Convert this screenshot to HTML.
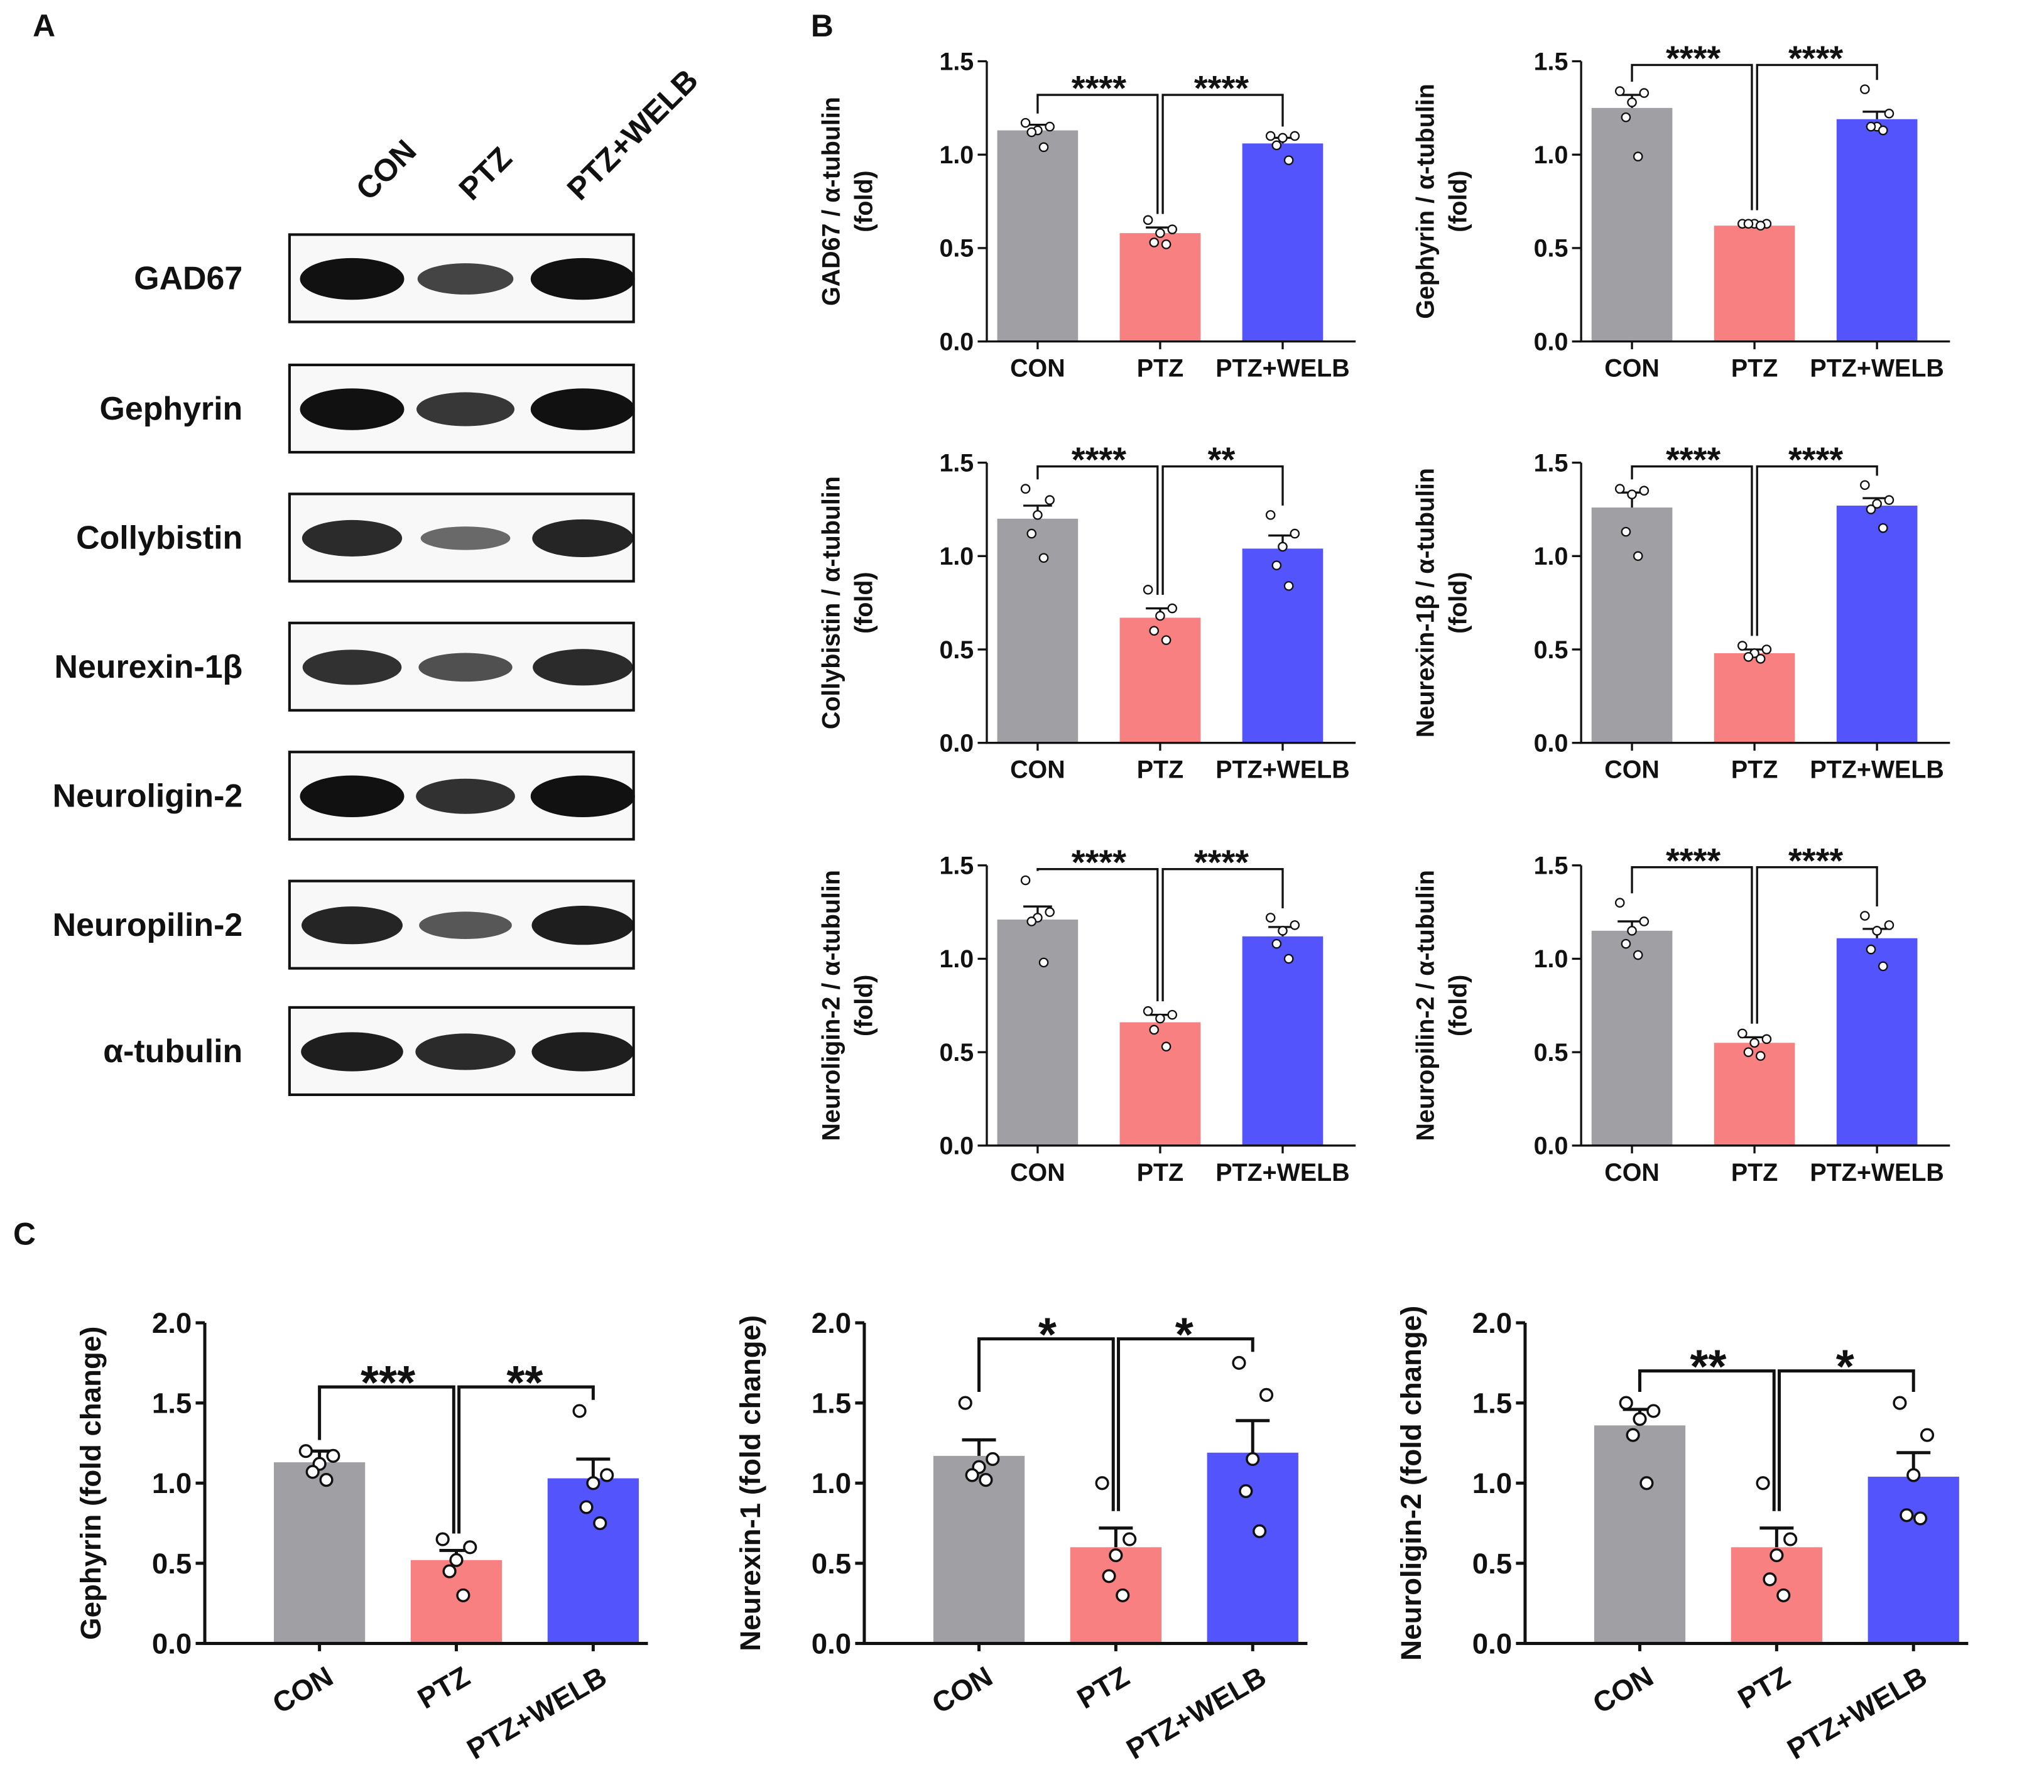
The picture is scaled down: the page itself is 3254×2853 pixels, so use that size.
<!DOCTYPE html>
<html><head><meta charset="utf-8"><style>
html,body{margin:0;padding:0;background:#fff}
svg{display:block}
text{font-family:"Liberation Sans",sans-serif;font-weight:bold;fill:#111}
</style></head><body>
<svg id="fig" width="3254" height="2853" viewBox="0 0 1568 1375" xmlns="http://www.w3.org/2000/svg">
<rect width="1568" height="1375" fill="#fff"/>
<g id="panelA">
<text x="25" y="28" font-size="24">A</text>
<text transform="translate(283,155) rotate(-45)" font-size="24">CON</text>
<text transform="translate(362,155) rotate(-45)" font-size="24">PTZ</text>
<text transform="translate(445,155) rotate(-45)" font-size="24">PTZ+WELB</text>
</g>
<g id="charts"></g>
</svg>
<script>
const blotNames=["GAD67","Gephyrin","Collybistin","Neurexin-1β","Neuroligin-2","Neuropilin-2","α-tubulin"];
const blotIntensity=[[1,0.6,1],[1,0.7,1],[0.8,0.3,0.85],[0.75,0.5,0.8],[1,0.75,1],[0.85,0.45,0.9],[0.9,0.8,0.9]];
const groups=["CON","PTZ","PTZ+WELB"];
const colors=["#a0a0a4","#f98080","#5454fc"];
const bTitles=["GAD67 / α-tubulin","Gephyrin / α-tubulin","Collybistin / α-tubulin","Neurexin-1β / α-tubulin","Neuroligin-2 / α-tubulin","Neuropilin-2 / α-tubulin"];
const bMeans=[[1.13,0.58,1.06],[1.25,0.62,1.19],[1.20,0.67,1.04],[1.26,0.48,1.27],[1.21,0.66,1.12],[1.15,0.55,1.11]];
const bSem=[[0.03,0.03,0.03],[0.07,0.01,0.04],[0.07,0.05,0.07],[0.08,0.02,0.04],[0.07,0.04,0.05],[0.05,0.03,0.05]];
const bPoints=[
[[1.17,1.15,1.13,1.12,1.04],[0.65,0.6,0.58,0.53,0.52],[1.1,1.1,1.09,1.05,0.97]],
[[1.34,1.33,1.28,1.2,0.99],[0.63,0.63,0.63,0.63,0.62],[1.35,1.22,1.15,1.15,1.13]],
[[1.36,1.30,1.22,1.12,0.99],[0.82,0.72,0.68,0.6,0.55],[1.22,1.12,1.05,0.95,0.84]],
[[1.36,1.35,1.33,1.13,1.0],[0.52,0.5,0.48,0.46,0.45],[1.38,1.3,1.28,1.25,1.15]],
[[1.42,1.25,1.22,1.2,0.98],[0.72,0.7,0.68,0.62,0.53],[1.22,1.18,1.15,1.08,1.0]],
[[1.3,1.2,1.15,1.08,1.02],[0.6,0.57,0.55,0.5,0.48],[1.23,1.18,1.15,1.05,0.96]]];
const bStars=[["****","****"],["****","****"],["****","**"],["****","****"],["****","****"],["****","****"]];
const bBracket=[1.32,1.48,1.48,1.48,1.48,1.49];
const bTicks=[0,0.5,1.0,1.5];
const cTitles=["Gephyrin (fold change)","Neurexin-1 (fold change)","Neuroligin-2 (fold change)"];
const cMeans=[[1.13,0.52,1.03],[1.17,0.60,1.19],[1.36,0.60,1.04]];
const cSem=[[0.07,0.06,0.12],[0.10,0.12,0.20],[0.10,0.12,0.15]];
const cPoints=[
[[1.2,1.17,1.12,1.07,1.02],[0.65,0.6,0.52,0.45,0.3],[1.45,1.05,1.0,0.85,0.75]],
[[1.5,1.15,1.1,1.05,1.02],[1.0,0.65,0.55,0.42,0.3],[1.75,1.55,1.15,0.95,0.7]],
[[1.5,1.45,1.4,1.3,1.0],[1.0,0.65,0.55,0.4,0.3],[1.5,1.3,1.05,0.8,0.78]]];
const cStars=[["***","**"],["*","*"],["**","*"]];
const cBracket=[1.6,1.9,1.7];
const cTicks=[0,0.5,1.0,1.5,2.0];

const NS="http://www.w3.org/2000/svg";
const root=document.getElementById("charts");
function mk(tag,attrs,parent,txt){const e=document.createElementNS(NS,tag);for(const k in attrs)e.setAttribute(k,attrs[k]);if(txt!==undefined)e.textContent=txt;(parent||root).appendChild(e);return e;}

const pa=document.getElementById("panelA");
const blotTop=[180,280,379,478,577,676,773];
blotNames.forEach((n,i)=>{
  const y=blotTop[i];
  const t=mk("text",{x:186,y:y+42,"font-size":25,"text-anchor":"end"},pa,n);
  
  
  const r=mk("rect",{x:222,y:y,width:264,height:67,fill:"#f8f8f8",stroke:"#111","stroke-width":2},pa);
  
  
  [270,357,447].forEach((cx,j)=>{
    const v=blotIntensity[i][j];
    const e=mk("ellipse",{cx:cx,cy:y+34,rx:32+8*v,ry:6+10*v,fill:"#111",opacity:0.45+0.55*v},pa);
    
    
  });
});

function chart(o){
  const g=mk("g",{});
  
  
  const ys=v=>o.y0-(v/o.ymax)*(o.y0-o.ytop);
  const bx=i=>o.x0+o.off+i*o.step;
  o.means.forEach((m,i)=>{
    const b=mk("rect",{x:bx(i),y:ys(m),width:o.bw,height:o.y0-ys(m),fill:colors[i]},g);
    
    
    const cx=bx(i)+o.bw/2;
    const eb=mk("path",{d:`M${cx},${ys(m)}V${ys(m+o.sem[i])}M${cx-o.cap},${ys(m+o.sem[i])}H${cx+o.cap}`,stroke:"#111","stroke-width":o.lw,fill:"none"},g);
    
    
    o.pts[i].forEach((p,k)=>{
      const dx=[-0.3,0.3,0,-0.15,0.15][k]*o.bw*0.5;
      const c=mk("circle",{cx:cx+dx,cy:ys(p),r:o.pr,fill:"#fff",stroke:"#111","stroke-width":o.lw*0.7},g);
      
      
    });
  });
  const ax=mk("path",{d:`M${o.x0},${o.ytop}V${o.y0}H${o.x1}`,stroke:"#111","stroke-width":o.lw,fill:"none"},g);
  
  
  o.ticks.forEach(t=>{
    const tk=mk("line",{x1:o.x0-7,x2:o.x0,y1:ys(t),y2:ys(t),stroke:"#111","stroke-width":o.lw},g);
    
    
    const tl=mk("text",{x:o.x0-10,y:ys(t)+o.fs*0.35,"font-size":o.fs,"text-anchor":"end"},g,t.toFixed(1));
    
    
  });
  groups.forEach((gname,i)=>{
    const cx=bx(i)+o.bw/2;
    const tk=mk("line",{x1:cx,x2:cx,y1:o.y0,y2:o.y0+6,stroke:"#111","stroke-width":o.lw},g);
    
    
    let t;
    if(o.rot){t=mk("text",{transform:`translate(${cx+12},${o.y0+30}) rotate(-30)`,"font-size":o.fs,"text-anchor":"end"},g,gname);}
    else{t=mk("text",{x:cx,y:o.y0+27,"font-size":o.fs,"text-anchor":"middle"},g,gname);}
    
    
  });
  const my=(o.y0+o.ytop)/2;
  const yt=mk("text",{transform:`translate(${o.tx},${my}) rotate(-90)`,"font-size":o.tfs,"text-anchor":"middle"},g,o.title);
  
  
  if(o.tx2){const y2=mk("text",{transform:`translate(${o.tx2},${my}) rotate(-90)`,"font-size":o.tfs,"text-anchor":"middle"},g,"(fold)");
    
    }
  const by=ys(o.bracket);
  const c0=bx(0)+o.bw/2,c1=bx(1)+o.bw/2,c2=bx(2)+o.bw/2;
  const l1=ys(o.means[1]+o.sem[1])-o.pr*2-4;
  const br=mk("path",{d:`M${c0},${ys(o.pts[0][0])-o.pr-4}V${by}H${c1-2}V${l1}M${c1+2},${l1}V${by}H${c2}V${ys(Math.max(...o.pts[2]))-o.pr-4}`,stroke:"#111","stroke-width":o.lw,fill:"none"},g);
  
  
  [[c0,c1],[c1,c2]].forEach((p,i)=>{
    const s=mk("text",{x:(p[0]+p[1])/2,y:by-11+o.sfs*0.56,"font-size":o.sfs,"text-anchor":"middle"},g,o.stars[i]);
    
    
  });
}

const bX=[757,1213],bY0=[262,570,879];
for(let k=0;k<6;k++){
  const col=k%2,row=Math.floor(k/2);
  chart({name:'panel-b-chart-'+(k+1),x0:bX[col],x1:bX[col]+283,y0:bY0[row],ytop:bY0[row]-215,ymax:1.5,off:8,step:94,bw:62,
    means:bMeans[k],sem:bSem[k],pts:bPoints[k],ticks:bTicks,fs:19,tfs:19,sfs:27,lw:1.6,cap:11,pr:3.2,
    title:bTitles[k],tx:bX[col]-113,tx2:bX[col]-88,bracket:bBracket[k],stars:bStars[k],rot:false});
}
const cX=[157,663,1170];
for(let k=0;k<3;k++){
  chart({name:'panel-c-chart-'+(k+1),x0:cX[k],x1:cX[k]+340,y0:1261,ytop:1015,ymax:2.0,off:53,step:105,bw:70,
    means:cMeans[k],sem:cSem[k],pts:cPoints[k],ticks:cTicks,fs:22,tfs:22,sfs:36,lw:2.4,cap:13,pr:4.5,
    title:cTitles[k],tx:cX[k]-80,bracket:cBracket[k],stars:cStars[k],rot:true});
}
const lb=mk("text",{x:622,y:28,"font-size":24},root,"B");


const lc=mk("text",{x:10,y:955,"font-size":24},root,"C");


</script>
</body></html>
